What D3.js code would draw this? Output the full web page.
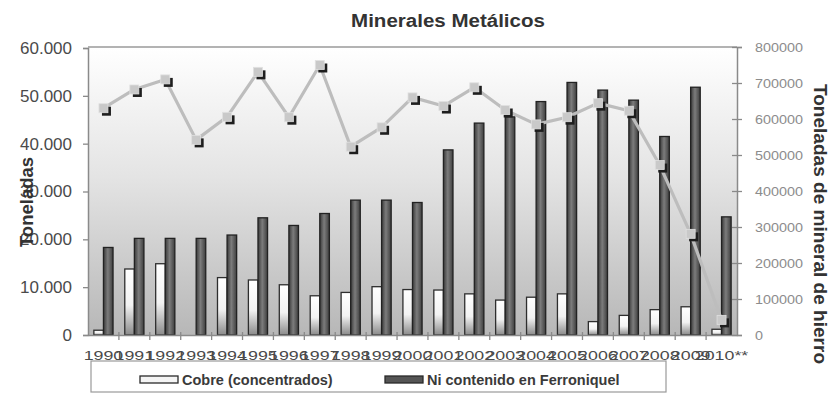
<!DOCTYPE html>
<html>
<head>
<meta charset="utf-8">
<script src="https://cdnjs.cloudflare.com/ajax/libs/d3/7.8.5/d3.min.js"></script>
<style>
  html, body { margin: 0; padding: 0; background: #ffffff; }
  svg { display: block; font-family: Arial, "Liberation Sans", sans-serif; }
</style>
</head>
<body>
<svg id="chart" width="833" height="393"></svg>
<script>
// Producción de minerales metálicos
const years = ["1990","1991","1992","1993","1994","1995","1996","1997","1998","1999",
               "2000","2001","2002","2003","2004","2005","2006","2007","2008","2009","2010**"];
// Cobre (concentrados), toneladas
const cobre = [1000, 13800, 14900, 0, 12000, 11500, 10500, 8200, 8900, 10100,
               9500, 9400, 8600, 7300, 7900, 8600, 2800, 4100, 5300, 5900, 1200];
// Ni contenido en Ferroniquel, toneladas
const niquel = [18300, 20200, 20200, 20200, 20900, 24500, 22900, 25400, 28200, 28200,
                27700, 38700, 44300, 45600, 48800, 52800, 51200, 49100, 41500, 51800, 24700];
// Mineral de hierro, toneladas (eje derecho)
const hierro = [630000, 682000, 710000, 542000, 606000, 731000, 605000, 750000, 523000, 577000,
                660000, 636000, 688000, 625000, 585000, 605000, 644000, 623000, 472000, 281000, 42000];
const leftTicks = [0, 10000, 20000, 30000, 40000, 50000, 60000];
const rightTicks = [0, 100000, 200000, 300000, 400000, 500000, 600000, 700000, 800000];
const seriesNames = ["Cobre (concentrados)", "Ni contenido en Ferroniquel"];

const svg = d3.select("#chart");
const plot = { left: 88, right: 737, top: 47, bottom: 335 };

const x = d3.scaleBand().domain(years).range([plot.left, plot.right]).paddingInner(0).paddingOuter(0);
const xg = d3.scaleBand().domain(years).range([plot.left, plot.right]).paddingInner(0.38).paddingOuter(0.19);
const xs = d3.scaleBand().domain([0, 1]).range([0, xg.bandwidth()]).padding(0);
const yL = d3.scaleLinear().domain([0, 60000]).range([plot.bottom, plot.top + 1]);
const yR = d3.scaleLinear().domain([0, 800000]).range([plot.bottom, plot.top]);

// Wide lettering: scale glyphs horizontally around the text's own anchor point
function widen(sel, factor) {
  sel.each(function () {
    const t = d3.select(this);
    const x0 = +t.attr("x") || 0;
    t.attr("x", x0 / factor).attr("transform", `scale(${factor},1)`);
  });
}

const defs = svg.append("defs");
const bg = defs.append("linearGradient").attr("id", "bgGrad").attr("x1", 0).attr("y1", 0).attr("x2", 0).attr("y2", 1);
bg.append("stop").attr("offset", "0%").attr("stop-color", "#ffffff");
bg.append("stop").attr("offset", "45%").attr("stop-color", "#e4e4e4");
bg.append("stop").attr("offset", "100%").attr("stop-color", "#b7b7b7");

const gW = defs.append("linearGradient").attr("id", "whiteGrad").attr("x1", 0).attr("y1", 0).attr("x2", 0).attr("y2", 1);
gW.append("stop").attr("offset", "0%").attr("stop-color", "#ffffff");
gW.append("stop").attr("offset", "55%").attr("stop-color", "#f2f2f2");
gW.append("stop").attr("offset", "100%").attr("stop-color", "#8a8a8a");

const gD = defs.append("linearGradient").attr("id", "darkGrad").attr("x1", 0).attr("y1", 0).attr("x2", 1).attr("y2", 0);
gD.append("stop").attr("offset", "0%").attr("stop-color", "#3a3a3a");
gD.append("stop").attr("offset", "45%").attr("stop-color", "#7c7c7c");
gD.append("stop").attr("offset", "100%").attr("stop-color", "#3e3e3e");

// Plot background
svg.append("rect")
  .attr("x", plot.left).attr("y", plot.top)
  .attr("width", plot.right - plot.left).attr("height", plot.bottom - plot.top)
  .attr("fill", "url(#bgGrad)");

// Top border of the plot area
svg.append("line")
  .attr("x1", plot.left).attr("x2", plot.right).attr("y1", plot.top).attr("y2", plot.top)
  .attr("stroke", "#9a9a9a").attr("stroke-width", 1.5);

// Bars
const groups = svg.append("g").selectAll("g").data(years).join("g")
  .attr("transform", d => `translate(${xg(d)},0)`);

groups.append("rect")
  .attr("x", xs(0)).attr("width", xs.bandwidth())
  .attr("y", (d, i) => yL(cobre[i]))
  .attr("height", (d, i) => yL(0) - yL(cobre[i]))
  .attr("fill", "url(#whiteGrad)")
  .attr("stroke", "#2e2e2e").attr("stroke-width", 1.3)
  .attr("display", (d, i) => cobre[i] > 0 ? null : "none");

groups.append("rect")
  .attr("x", xs(1)).attr("width", xs.bandwidth())
  .attr("y", (d, i) => yL(niquel[i]))
  .attr("height", (d, i) => yL(0) - yL(niquel[i]))
  .attr("fill", "url(#darkGrad)")
  .attr("stroke", "#222").attr("stroke-width", 1.3);

// Axes
const axisColor = "#8a8a8a";
const gLeft = svg.append("g").attr("transform", `translate(${plot.left},0)`)
  .call(d3.axisLeft(yL).tickValues(leftTicks).tickSize(5).tickPadding(11)
    .tickFormat(d => d3.format(",")(d).replace(/,/g, ".")));
const gRight = svg.append("g").attr("transform", `translate(${plot.right},0)`)
  .call(d3.axisRight(yR).tickValues(rightTicks).tickSize(5).tickPadding(13).tickFormat(d3.format("d")));
const gBottom = svg.append("g").attr("transform", `translate(0,${plot.bottom})`)
  .call(d3.axisBottom(x).tickSize(0));

[gLeft, gRight, gBottom].forEach(g => {
  g.select(".domain").attr("stroke", axisColor).attr("stroke-width", 1.5);
  g.selectAll(".tick line").attr("stroke", axisColor).attr("stroke-width", 1.3);
});
gRight.selectAll(".tick line").attr("x1", -5);
gLeft.selectAll("text").attr("font-size", 17).attr("fill", "#4a4a4a").attr("font-family", "Arial, 'Liberation Sans', sans-serif");
gRight.selectAll("text").attr("font-size", 12.5).attr("fill", "#8c8c8c").attr("font-family", "Arial, 'Liberation Sans', sans-serif");
widen(gRight.selectAll("text"), 1.15);
gBottom.selectAll("text").attr("font-size", 13.5).attr("fill", "#4a4a4a")
  .attr("font-family", "Arial, 'Liberation Sans', sans-serif")
  .attr("y", 25).attr("dy", 0);
widen(gBottom.selectAll("text"), 1.32);

// Category separators on the bottom axis
const bounds = years.slice(1).map(d => x(d));
svg.append("g").selectAll("line").data(bounds).join("line")
  .attr("x1", d => d).attr("x2", d => d)
  .attr("y1", plot.bottom - 3).attr("y2", plot.bottom + 5)
  .attr("stroke", axisColor).attr("stroke-width", 1.3);

// Iron ore line
const centers = years.map(d => x(d) + x.bandwidth() / 2);
const line = d3.line().x((d, i) => centers[i]).y(d => yR(d));
svg.append("path").datum(hierro)
  .attr("d", line).attr("fill", "none")
  .attr("stroke", "#bdbdbd").attr("stroke-width", 3.2).attr("stroke-linejoin", "round");

const ms = 9;
const markers = svg.append("g").selectAll("g").data(hierro).join("g")
  .attr("transform", (d, i) => `translate(${centers[i]},${yR(d)})`);
markers.append("rect")
  .attr("x", -ms / 2 + 3).attr("y", -ms / 2 + 3).attr("width", ms).attr("height", ms)
  .attr("fill", "#1e1e1e");
markers.append("rect")
  .attr("x", -ms / 2).attr("y", -ms / 2).attr("width", ms).attr("height", ms)
  .attr("fill", "#c9c9c9").attr("stroke", "#e0e0e0").attr("stroke-width", 0.8);

// Title
const title = svg.append("text")
  .attr("x", 448).attr("y", 27).attr("text-anchor", "middle")
  .attr("font-size", 19).attr("font-weight", "bold").attr("fill", "#333")
  .text("Minerales Metálicos");
widen(title, 1.08);

// Axis titles
svg.append("text")
  .attr("transform", "translate(33,202) rotate(-90)")
  .attr("text-anchor", "middle").attr("font-size", 18.5).attr("font-weight", "bold").attr("fill", "#333")
  .text("Toneladas");
svg.append("text")
  .attr("transform", "translate(814,224) rotate(90) scale(1.03,1)")
  .attr("text-anchor", "middle").attr("font-size", 18.5).attr("font-weight", "bold").attr("fill", "#333")
  .text("Toneladas de mineral de hierro");

// Legend
const legend = svg.append("g");
legend.append("rect")
  .attr("x", 91).attr("y", 361).attr("width", 575).attr("height", 31)
  .attr("fill", "none").attr("stroke", "#9a9a9a").attr("stroke-width", 1.2);
const legendX = [140, 385];
const li = legend.selectAll("g.item").data(seriesNames).join("g").attr("class", "item")
  .attr("transform", (d, i) => `translate(${legendX[i]},376)`);
li.append("rect").attr("width", 38).attr("height", 7)
  .attr("fill", (d, i) => i === 0 ? "#f4f4f4" : "#555")
  .attr("stroke", "#2a2a2a").attr("stroke-width", 1.3);
li.append("text").attr("x", 42).attr("y", 9)
  .attr("font-size", 14.5).attr("font-weight", "bold").attr("fill", "#3a3a3a")
  .text(d => d);
</script>
</body>
</html>
